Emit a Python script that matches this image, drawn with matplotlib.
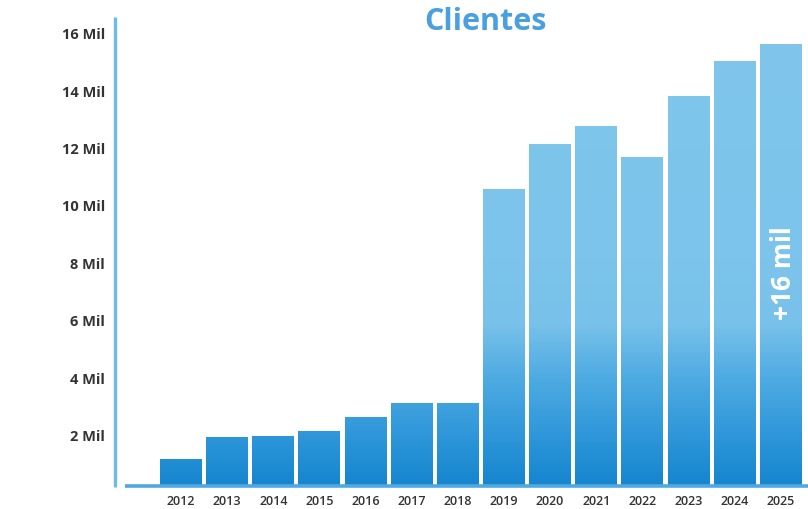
import matplotlib
matplotlib.use("Agg")
import matplotlib.pyplot as plt
import numpy as np
from matplotlib.colors import LinearSegmentedColormap
from matplotlib.patches import Rectangle

years = ["2012", "2013", "2014", "2015", "2016", "2017", "2018",
         "2019", "2020", "2021", "2022", "2023", "2024", "2025"]
clientes_mil = [1.22, 2.0, 2.02, 2.2, 2.7, 3.18, 3.2,
                10.66, 12.22, 12.85, 11.75, 13.88, 15.09, 15.69]
ytick_vals = [2, 4, 6, 8, 10, 12, 14, 16]
ytick_labels = ["2 Mil", "4 Mil", "6 Mil", "8 Mil", "10 Mil", "12 Mil", "14 Mil", "16 Mil"]
title = "Clientes"
badge = "+16 mil"

W, H = 808, 509
fig = plt.figure(figsize=(W / 100, H / 100), dpi=100)
fig.patch.set_facecolor("white")

# axes from pixel x=115 .. 808, y=487 .. 0
ax = fig.add_axes([115 / W, (H - 487) / H, (W - 115) / W, 487 / H])
ax.set_facecolor("white")

ymin, ymax = 0.26, 17.23
x = np.arange(len(years))

cmap = LinearSegmentedColormap.from_list(
    "blues",
    [(0.0, "#1585ce"), (0.11, "#2e96d9"), (0.24, "#4eabe2"),
     (0.36, "#78c1ea"), (0.5, "#7cc4eb"), (1.0, "#80c6ec")])
grad = np.linspace(0, 1, 256).reshape(-1, 1)

bw = 0.91
for xi, v in zip(x, clientes_mil):
    rect = Rectangle((xi - bw / 2, ymin), bw, v - ymin, facecolor="none",
                     edgecolor="none", transform=ax.transData)
    ax.add_patch(rect)
    im = ax.imshow(grad, cmap=cmap, origin="lower", aspect="auto",
                   extent=[xi - bw / 2, xi + bw / 2, ymin, 16.0],
                   interpolation="bicubic", zorder=2)
    im.set_clip_path(rect)

ax.set_xlim(-1.43, 13.59)
ax.set_ylim(ymin, ymax)

for s in ax.spines.values():
    s.set_visible(False)

# axis lines
ax.plot([-1.22, 13.59], [ymin + 0.02, ymin + 0.02], color="#4fa9e0", lw=2.6,
        solid_capstyle="butt", zorder=3, clip_on=False)
ax.plot([-1.43, -1.43], [ymin, 16.63], color="#6dbbe8", lw=2.4,
        solid_capstyle="butt", zorder=3, clip_on=False)

ax.set_xticks([])
ax.set_yticks([])

font = "Open Sans"
for v, lab in zip(ytick_vals, ytick_labels):
    ax.text(-1.65, v, lab, ha="right", va="center", fontsize=10.5,
            fontweight="bold", color="#333333", family=font)
for xi, lab in zip(x, years):
    ax.text(xi, -0.25, lab, ha="center", va="center", fontsize=9,
            fontweight="semibold", color="#333333", family=font, clip_on=False)

fig.text(485 / W, 1 - 22 / H, title, ha="center", va="center", fontsize=22,
         fontweight="bold", color="#4a9fe0", family=font)

ax.text(x[-1] + 0.05, 7.72, badge, rotation=90, ha="center", va="center",
        fontsize=19, fontweight="bold", color="white", family=font, zorder=4)

fig.savefig("out.png", dpi=100, facecolor="white")
